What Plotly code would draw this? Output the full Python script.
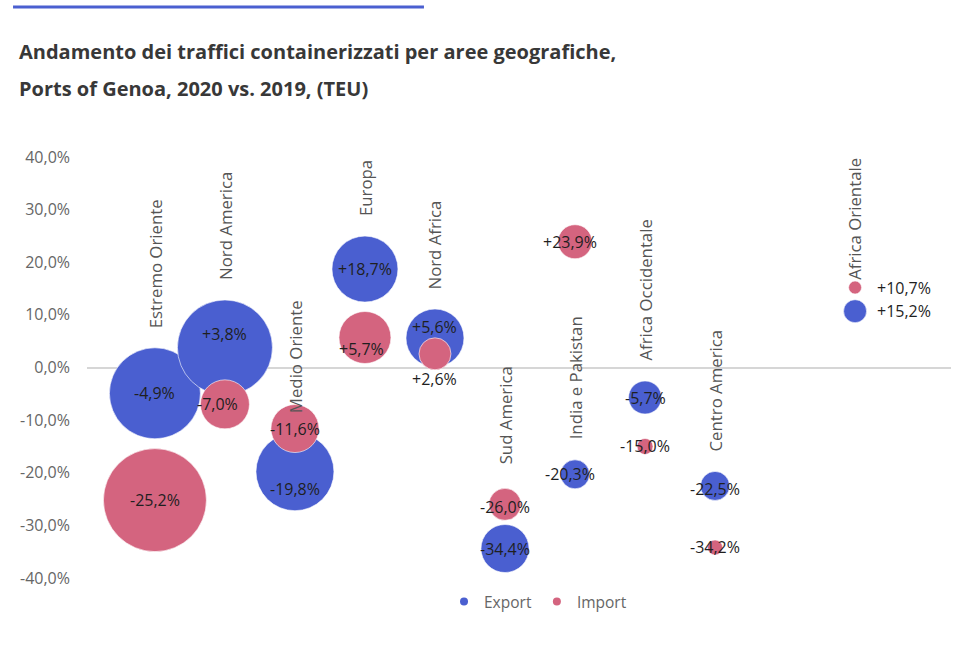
import plotly.graph_objects as go

# ---- data ----
categories = ["Estremo Oriente", "Nord America", "Medio Oriente", "Europa", "Nord Africa",
              "Sud America", "India e Pakistan", "Africa Occidentale", "Centro America",
              "Africa Orientale"]
axis_slots = ["Estremo Oriente", "Nord America", "Medio Oriente", "Europa", "Nord Africa",
              "Sud America", "India e Pakistan", "Africa Occidentale", "Centro America",
              " ", "Africa Orientale"]

export_y = [-4.9, 3.8, -19.8, 18.7, 5.6, -34.4, -20.3, -5.7, -22.5, 10.7]
import_y = [-25.2, -7.0, -11.6, 5.7, 2.6, -26.0, 23.9, -15.0, -34.2, 15.2]
export_labels = ["-4,9%", "+3,8%", "-19,8%", "+18,7%", "+5,6%", "-34,4%", "-20,3%", "-5,7%", "-22,5%", "+15,2%"]
import_labels = ["-25,2%", "-7,0%", "-11,6%", "+5,7%", "+2,6%", "-26,0%", "+23,9%", "-15,0%", "-34,2%", "+10,7%"]
# bubble size (relative TEU volume, read as bubble diameter)
export_size = [91, 95, 78, 66, 58, 48, 29, 33, 29, 23]
import_size = [103, 49, 48, 52, 32, 32, 34, 16, 15, 13]

y_ticks = [-40, -30, -20, -10, 0, 10, 20, 30, 40]
y_tick_text = ["-40,0%", "-30,0%", "-20,0%", "-10,0%", "0,0%", "10,0%", "20,0%", "30,0%", "40,0%"]

# ---- style ----
BLUE = "#4a5fd0"
PINK = "#d4647f"
FONT = "Open Sans"

fig = go.Figure()
fig.add_trace(go.Scatter(x=categories, y=export_y, mode="markers", showlegend=False,
                         marker=dict(size=export_size, sizemode="diameter", color=BLUE,
                                     opacity=1, line=dict(color="white", width=0.6)),
                         hoverinfo="skip"))
fig.add_trace(go.Scatter(x=categories, y=import_y, mode="markers", showlegend=False,
                         marker=dict(size=import_size, sizemode="diameter", color=PINK,
                                     opacity=1, line=dict(color="white", width=0.6)),
                         hoverinfo="skip"))
# legend entries with small dots
fig.add_trace(go.Scatter(x=[None], y=[None], mode="markers", name="Export",
                         marker=dict(size=8, color=BLUE)))
fig.add_trace(go.Scatter(x=[None], y=[None], mode="markers", name="Import",
                         marker=dict(size=8, color=PINK)))

# label pixel nudges (style)
exp_shift = {"Nord America": (0, 14), "Medio Oriente": (0, -17), "Nord Africa": (0, 11),
             "India e Pakistan": (-5, 0), "Centro America": (0, -3)}
imp_shift = {"Nord America": (-7, 0), "Europa": (-3, -11), "Nord Africa": (0, -25),
             "India e Pakistan": (-5, 0), "Sud America": (0, -3)}
# category name sits above the export bubble, except where noted
name_on_import = {"Sud America"}

annotations = []
for i, c in enumerate(categories):
    side = c == "Africa Orientale"
    for yv, lab, sh in ((export_y[i], export_labels[i], exp_shift),
                        (import_y[i], import_labels[i], imp_shift)):
        dx, dy = sh.get(c, (0, 0))
        annotations.append(dict(x=c, y=yv, xref="x", yref="y", text=lab, showarrow=False,
                                font=dict(family=FONT, size=16, color="#1f1f1f"),
                                xanchor="left" if side else "center",
                                xshift=(20 if side else dx), yshift=dy))
    if c in name_on_import:
        ay, asz, gap = import_y[i], import_size[i], 22
    else:
        ay, asz, gap = export_y[i], export_size[i], 18
    annotations.append(dict(x=c, y=ay, xref="x", yref="y", text=c, showarrow=False,
                            textangle=-90, xanchor="center", yanchor="bottom",
                            yshift=asz / 2 + gap,
                            font=dict(family=FONT, size=16.8, color="#555555")))

# title (two lines)
annotations.append(dict(x=-0.081, y=1.251, xref="paper", yref="paper", xanchor="left", yanchor="middle",
                        text="<b>Andamento dei traffici containerizzati per aree geografiche,</b>",
                        showarrow=False, font=dict(family=FONT, size=20, color="#383838")))
annotations.append(dict(x=-0.081, y=1.163, xref="paper", yref="paper", xanchor="left", yanchor="middle",
                        text="<b>Ports of Genoa, 2020 vs. 2019, (TEU)</b>",
                        showarrow=False, font=dict(family=FONT, size=20, color="#383838")))

fig.update_layout(
    width=961, height=671,
    margin=dict(l=87, r=10, t=157, b=93),
    paper_bgcolor="white", plot_bgcolor="white",
    separators=",.",
    annotations=annotations,
    shapes=[dict(type="line", xref="paper", yref="paper", x0=-0.0856, x1=0.39, y0=1.356, y1=1.356,
                 line=dict(color=BLUE, width=3))],
    xaxis=dict(type="category", categoryorder="array", categoryarray=axis_slots,
               range=[-0.97, 11.37], showgrid=False, zeroline=False, showticklabels=False,
               showline=False, ticks=""),
    yaxis=dict(range=[-40, 40], tickvals=y_ticks, ticktext=y_tick_text,
               showgrid=False, zeroline=True, zerolinecolor="#d6d6d6", zerolinewidth=2,
               showline=False, ticks="", ticklabelstandoff=16,
               tickfont=dict(family=FONT, size=16, color="#666666")),
    legend=dict(orientation="h", x=0.522, xanchor="center", y=-0.057, yanchor="middle",
                font=dict(family=FONT, size=15.5, color="#666666"), itemwidth=30,
                bgcolor="rgba(0,0,0,0)"),
    showlegend=True,
)

fig.write_html("out.html")
